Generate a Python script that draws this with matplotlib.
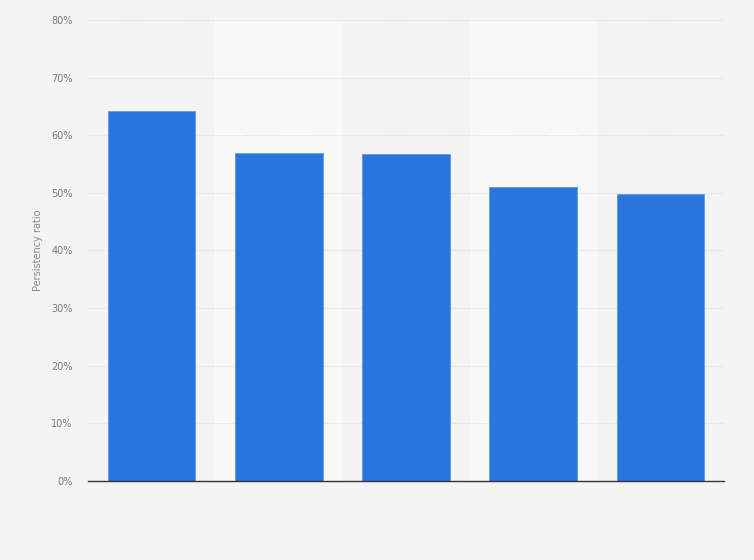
import matplotlib
matplotlib.use('Agg')
import matplotlib.pyplot as plt

# Data
categories = ['1', '2', '3', '4', '5']
ratio = [64.2, 56.9, 56.7, 51.0, 49.8]
yticks = [0, 10, 20, 30, 40, 50, 60, 70, 80]

fig = plt.figure(figsize=(7.54, 5.6), dpi=100, facecolor='#f4f4f4')
ax = fig.add_axes([0.1167, 0.1411, 0.8435, 0.8232])
ax.set_facecolor('#f4f4f4')

x = list(range(len(categories)))
# lighter bands on every other column
for i in x:
    if i % 2 == 1:
        ax.axvspan(i - 0.5, i + 0.5, color='#f9f9f9', zorder=0, lw=0)

ax.bar(x, ratio, width=0.69, color='#2876dd', edgecolor='#5e9ae8', linewidth=0.6, zorder=3)

ax.set_xlim(-0.5, len(categories) - 0.5)
ax.set_ylim(0, 80)
ax.set_yticks(yticks)
ax.set_yticklabels([f'{t}%' for t in yticks], color='#777777', fontsize=7)
ax.set_xticks([])
ax.tick_params(axis='y', length=0, pad=11)
ax.grid(axis='y', color='#d6d6d6', linestyle=(0, (1, 1.5)), linewidth=0.8, zorder=1)

for s in ['top', 'right', 'left']:
    ax.spines[s].set_visible(False)
ax.spines['bottom'].set_color('#333333')
ax.spines['bottom'].set_linewidth(1.0)
ax.spines['bottom'].set_zorder(4)

ax.set_ylabel('Persistency ratio', color='#888888', fontsize=7, labelpad=6)

plt.savefig('out.png', dpi=100, facecolor=fig.get_facecolor())
